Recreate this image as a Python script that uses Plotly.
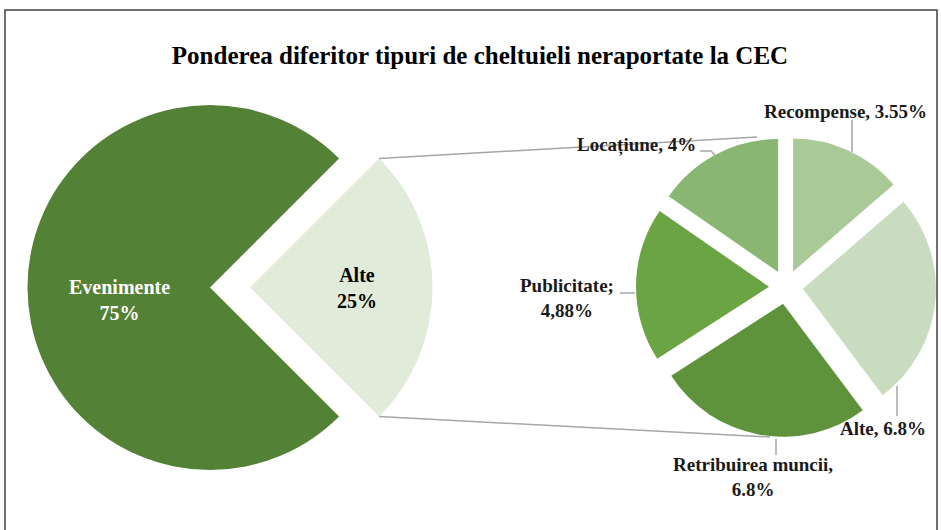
import math
import plotly.graph_objects as go

W, H = 941, 530

# ---------------- data ----------------
main_labels = ["Alte", "Evenimente"]
main_values = [25, 75]
main_colors = ["#E1EBDA", "#538135"]
main_text_colors = ["#000000", "#FFFFFF"]

sub_labels = ["Recompense", "Alte", "Retribuirea muncii", "Publicitate", "Locațiune"]
sub_values = [3.55, 6.8, 6.8, 4.88, 4.0]
sub_colors = ["#A9C997", "#C9DCC0", "#5E933B", "#6AA443", "#89B772"]
sub_label_text = [
    "Recompense, 3.55%",
    "Alte, 6.8%",
    "Retribuirea muncii,<br>6.8%",
    "Publicitate;<br>4,88%",
    "Locațiune, 4%",
]

title_text = "Ponderea diferitor tipuri de cheltuieli neraportate la CEC"

FONT = "Liberation Serif"


def px_x(x):
    return x / W


def px_y(y):
    return 1 - y / H


# ---------------- geometry (pixels) ----------------
# main pie
m_cx, m_cy, m_r = 230.0, 287.5, 182.5
m_pull = 20.0 / m_r
m_half = m_r * (1 + m_pull)
# secondary pie
s_cx, s_cy, s_r = 786.0, 287.0, 133.0
s_pull = 17.0 / s_r
s_half = s_r * (1 + s_pull)

fig = go.Figure()

fig.add_trace(go.Pie(
    labels=main_labels,
    values=main_values,
    sort=False,
    direction="clockwise",
    rotation=45,
    pull=[m_pull, m_pull],
    marker=dict(colors=main_colors, line=dict(width=0)),
    texttemplate="%{label}<br>%{percent:.0%}",
    textposition=["inside", "none"],
    insidetextorientation="horizontal",
    textfont=dict(family=FONT, size=20, color=main_text_colors, weight="bold"),
    domain=dict(x=[px_x(m_cx - m_half), px_x(m_cx + m_half)],
                y=[px_y(m_cy + m_half), px_y(m_cy - m_half)]),
    hoverinfo="skip",
    showlegend=False,
))

fig.add_trace(go.Pie(
    labels=sub_labels,
    values=sub_values,
    sort=False,
    direction="clockwise",
    rotation=0,
    pull=[s_pull] * len(sub_values),
    marker=dict(colors=sub_colors, line=dict(width=0)),
    textinfo="none",
    domain=dict(x=[px_x(s_cx - s_half), px_x(s_cx + s_half)],
                y=[px_y(s_cy + s_half), px_y(s_cy - s_half)]),
    hoverinfo="skip",
    showlegend=False,
))

shapes = []
# chart frame
shapes.append(dict(type="rect", xref="paper", yref="paper",
                   x0=px_x(5), x1=px_x(937), y0=px_y(10), y1=px_y(545),
                   line=dict(color="#404040", width=1.5), fillcolor="rgba(0,0,0,0)"))

# connector lines from exploded "Alte" slice to the secondary pie
a_vx = m_cx + m_r * m_pull
corner = m_r * math.sin(math.radians(45))
conn_color = "#A6A6A6"
shapes.append(dict(type="line", xref="paper", yref="paper",
                   x0=px_x(a_vx + corner), y0=px_y(m_cy - corner),
                   x1=px_x(s_cx - 29), y1=px_y(s_cy - s_half),
                   line=dict(color=conn_color, width=1.5)))
shapes.append(dict(type="line", xref="paper", yref="paper",
                   x0=px_x(a_vx + corner), y0=px_y(m_cy + corner),
                   x1=px_x(s_cx - 16), y1=px_y(s_cy + s_half),
                   line=dict(color=conn_color, width=1.5)))

# label placement for secondary pie (pixels): text centre, leader line path
label_pos = [
    (845, 111),
    (883, 428),
    (753, 477),
    (567, 298),
    (636, 145),
]
leaders = [
    [(852, 120), (852, 152)],
    [(897, 386), (897, 416)],
    [(776, 439), (776, 455)],
    [(620, 293), (635, 293)],
    [(700, 151), (711, 151), (716, 156)],
]
for pts in leaders:
    path = "M " + " L ".join(f"{px_x(x)},{px_y(y)}" for x, y in pts)
    shapes.append(dict(type="path", xref="paper", yref="paper", path=path,
                       line=dict(color=conn_color, width=1.5)))

annotations = []
for txt, (x, y) in zip(sub_label_text, label_pos):
    annotations.append(dict(text=txt, x=px_x(x), y=px_y(y), xref="paper", yref="paper",
                            xanchor="center", yanchor="middle", showarrow=False,
                            align="center",
                            font=dict(family=FONT, size=19, color="#1A1A1A", weight="bold")))

# label of the large slice of the main pie
ev_share = main_values[1] / sum(main_values)
annotations.append(dict(text=f"{main_labels[1]}<br>{ev_share:.0%}",
                        x=px_x(119), y=px_y(300), xref="paper", yref="paper",
                        xanchor="center", yanchor="middle", showarrow=False, align="center",
                        font=dict(family=FONT, size=20, color=main_text_colors[1],
                                  weight="bold")))

fig.update_layout(
    width=W, height=H,
    margin=dict(l=0, r=0, t=0, b=0),
    paper_bgcolor="#FFFFFF",
    plot_bgcolor="#FFFFFF",
    title=dict(text=title_text, x=px_x(480), y=px_y(55), xanchor="center", yanchor="middle",
               font=dict(family=FONT, size=25, color="#000000", weight="bold")),
    shapes=shapes,
    annotations=annotations,
)

fig.write_html("out.html", config={"displayModeBar": False},
               post_script="document.body.style.margin='0';")
